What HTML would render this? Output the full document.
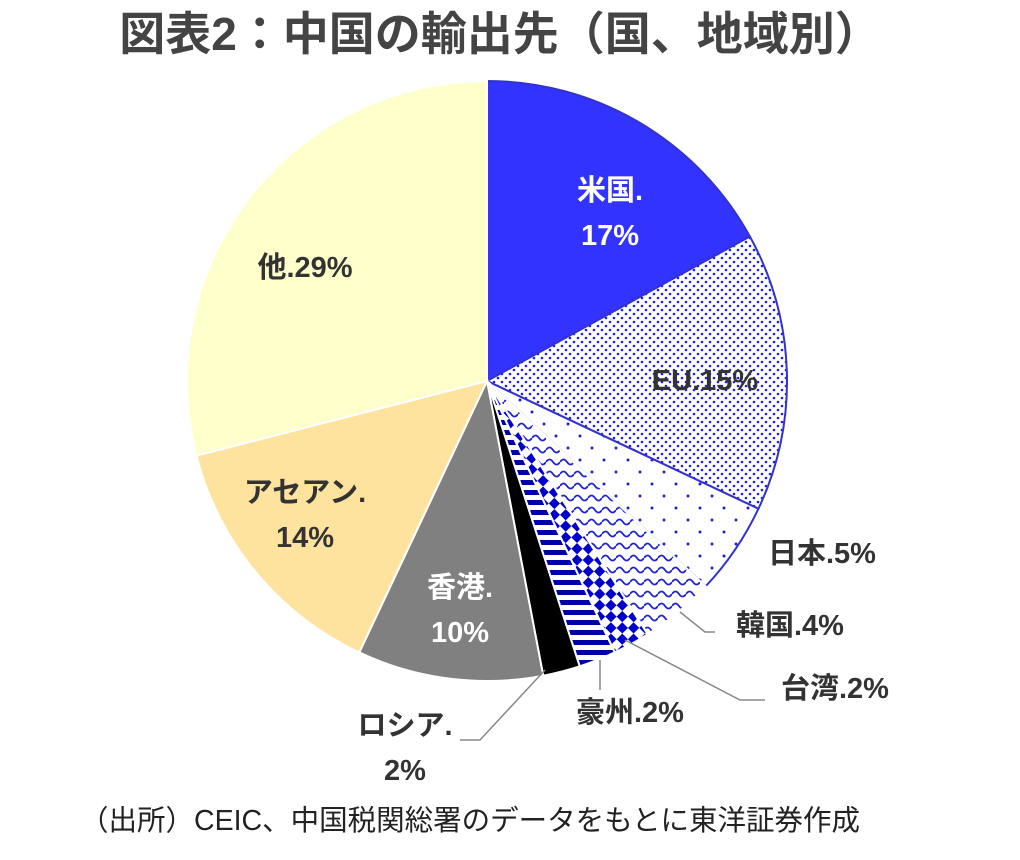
<!DOCTYPE html>
<html><head><meta charset="utf-8"><style>
body{margin:0;background:#fff;width:1020px;height:855px;overflow:hidden}
text{font-family:"Liberation Sans","Noto Sans CJK JP",sans-serif;font-weight:bold;fill:#333}
</style></head><body>
<svg id="chart" width="1020" height="855" viewBox="0 0 1020 855">
<defs>
<pattern id="pEU" width="8" height="8" patternUnits="userSpaceOnUse"><rect width="8" height="8" fill="#fff"/><circle cx="2" cy="2" r="1.3" fill="#22c"/><circle cx="6" cy="6" r="1.3" fill="#22c"/></pattern>
<pattern id="pJP" width="24" height="24" patternUnits="userSpaceOnUse"><rect width="24" height="24" fill="#fff"/><circle cx="4" cy="4" r="1.5" fill="#22c"/><circle cx="16" cy="16" r="1.5" fill="#22c"/></pattern>
<pattern id="pKR" width="14" height="12" patternUnits="userSpaceOnUse"><rect width="14" height="12" fill="#fff"/><path d="M0 6 Q3.5 1 7 6 T14 6" stroke="#22c" stroke-width="1.8" fill="none"/></pattern>
<pattern id="pTW" width="16" height="16" patternUnits="userSpaceOnUse" patternTransform="rotate(45)"><rect width="16" height="16" fill="#fff"/><rect width="8" height="8" fill="#00c"/><rect x="8" y="8" width="8" height="8" fill="#00c"/></pattern>
<pattern id="pAU" width="10" height="10" patternUnits="userSpaceOnUse"><rect width="10" height="10" fill="#fff"/><rect y="0" width="10" height="5" fill="#00a"/></pattern>
</defs>
<text x="500" y="50" text-anchor="middle" font-size="46" style="fill:#444">図表2：中国の輸出先（国、地域別）</text>
<g id="slices"></g>
<g id="labels"></g>
<text x="80" y="830" font-size="28.5" style="font-weight:normal;fill:#222">（出所）CEIC、中国税関総署のデータをもとに東洋証券作成</text>
</svg>
<script>
const categories=["米国","EU","日本","韓国","台湾","豪州","ロシア","香港","アセアン","他"];
const values=[17,15,5,4,2,2,2,10,14,29];
const fills=["#3333ff","url(#pEU)","url(#pJP)","url(#pKR)","url(#pTW)","url(#pAU)","#000","#808080","#fde39e","#ffffcc"];
const cx=487,cy=381,r=300;
const NS="http://www.w3.org/2000/svg";
const total=values.reduce((a,b)=>a+b,0);
function pt(deg,rad){const a=(deg-90)*Math.PI/180;return [cx+rad*Math.cos(a),cy+rad*Math.sin(a)];}
const g=document.getElementById('slices');
let acc=0;
values.forEach((v,i)=>{
  const a0=acc/total*360,a1=(acc+v)/total*360;acc+=v;
  const p0=pt(a0,r),p1=pt(a1,r);
  const p=document.createElementNS(NS,'path');
  p.setAttribute('d',`M${cx},${cy}L${p0[0]},${p0[1]}A${r},${r} 0 ${a1-a0>180?1:0} 1 ${p1[0]},${p1[1]}Z`);
  p.setAttribute('fill',fills[i]);
  p.setAttribute('stroke',i<3?'#3333cc':'#fff');p.setAttribute('stroke-width','2');
  
  
  g.appendChild(p);
});
const L=document.getElementById('labels');
const lab=[
 [610,200,[categories[0]+".",values[0]+"%"],"#fff",null],
 [705,390,[categories[1]+"."+values[1]+"%"],"#333",null],
 [822,563,[categories[2]+"."+values[2]+"%"],"#333",null],
 [790,635,[categories[3]+"."+values[3]+"%"],"#333",[680,612,705,632,715,632]],
 [835,698,[categories[4]+"."+values[4]+"%"],"#333",[625,640,740,700,765,700]],
 [630,722,[categories[5]+"."+values[5]+"%"],"#333",[600,660,600,690]],
 [405,735,[categories[6]+".",values[6]+"%"],"#333",[545,670,480,740,460,740]],
 [460,597,[categories[7]+".",values[7]+"%"],"#fff",null],
 [305,502,[categories[8]+".",values[8]+"%"],"#333",null],
 [305,277,[categories[9]+"."+values[9]+"%"],"#333",null]
];
lab.forEach((l,i)=>{
  if(l[4]){const pl=document.createElementNS(NS,'polyline');
    const pts=[];for(let k=0;k<l[4].length;k+=2)pts.push(l[4][k]+','+l[4][k+1]);
    pl.setAttribute('points',pts.join(' '));pl.setAttribute('fill','none');pl.setAttribute('stroke','#888');pl.setAttribute('stroke-width','1.5');
    
    
    L.appendChild(pl);}
  l[2].forEach((s,j)=>{const t=document.createElementNS(NS,'text');
    t.setAttribute('x',l[0]);t.setAttribute('y',l[1]+j*45);t.setAttribute('text-anchor','middle');
    t.setAttribute('font-size','29');t.style.fill=l[3];t.textContent=s;
    
    
    L.appendChild(t);});
});
</script>
</body></html>
